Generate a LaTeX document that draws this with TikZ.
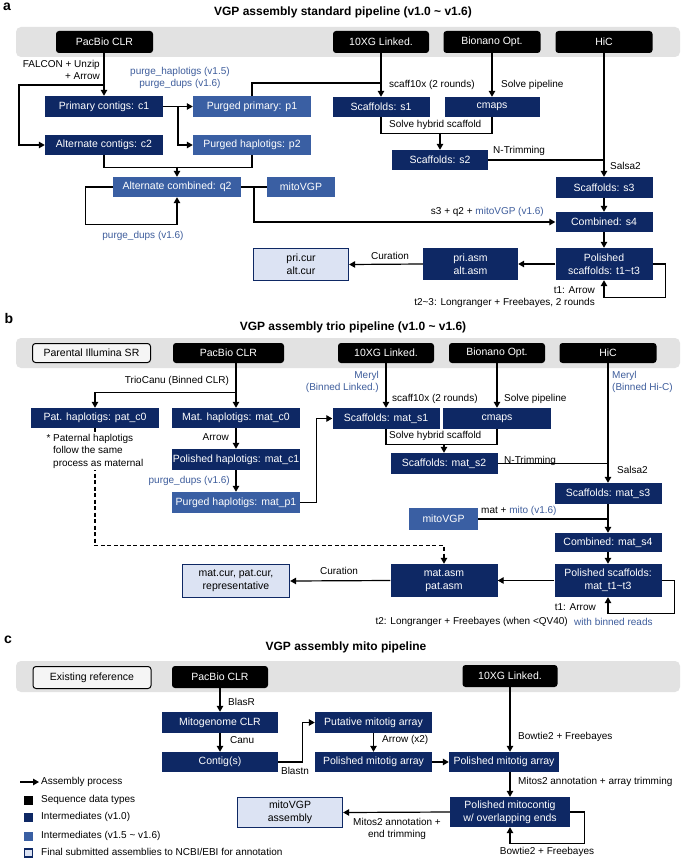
\documentclass[tikz,border=0pt]{standalone}
\usepackage{fontspec}
\setmainfont{Liberation Sans}
\usetikzlibrary{arrows.meta,calc}
\definecolor{dkblue}{RGB}{14,40,100}
\definecolor{mdblue}{RGB}{58,95,163}
\definecolor{ltblue}{RGB}{220,227,243}
\definecolor{txtblue}{RGB}{62,93,156}
\definecolor{bandgray}{RGB}{226,226,226}
\definecolor{refgray}{RGB}{245,245,245}
\newcommand{\bxf}{\fontsize{10.5}{13}\selectfont}
\newcommand{\lbf}{\fontsize{10}{12.5}\selectfont}
\newcommand{\ttlf}{\fontsize{12}{14}\selectfont\bfseries}
\newcommand{\pnlf}{\fontsize{14}{16}\selectfont\bfseries}
\begin{document}
\begin{tikzpicture}[x=1pt,y=-1pt,
 bx/.style={rectangle, inner sep=1pt, text=white, font=\bxf, align=center},
 dk/.style={bx, fill=dkblue},
 md/.style={bx, fill=mdblue},
 lt/.style={bx, fill=ltblue, draw=dkblue, line width=1.3pt, text=black},
 src/.style={bx, fill=black, rounded corners=3pt},
 refbox/.style={bx, fill=refgray, draw=black, line width=1pt, rounded corners=3pt, text=black},
 lab/.style={font=\lbf, inner sep=1pt, align=left},
 blab/.style={lab, text=txtblue},
 ln/.style={line width=1.2pt},
 arr/.style={ln, -{Triangle[length=6pt,width=6.5pt]}},
 band/.style={fill=bandgray, rounded corners=5pt},
 ttl/.style={font=\ttlf, inner sep=0pt},
 pnl/.style={font=\pnlf, inner sep=0pt},
 leg/.style={minimum size=9pt, inner sep=0pt}]
\useasboundingbox (0,0) rectangle (685,861);
\fill[white] (0,0) rectangle (685,861);

% ================= panel a =================
\node[pnl] (la) at (7,7) {a};
\node[ttl] (ta) at (343,12) {VGP assembly standard pipeline (v1.0 \textasciitilde{} v1.6)};
\fill[band] (16,27) rectangle (680,57);
\node[src, minimum width=97pt, minimum height=22pt] (pacA) at (104.5,42) {PacBio CLR};
\node[src, minimum width=96pt, minimum height=22pt] (tenA) at (381,42) {10XG Linked.};
\node[src, minimum width=97pt, minimum height=22pt] (bioA) at (492,42) {Bionano Opt.};
\node[src, minimum width=97pt, minimum height=22pt] (hicA) at (604,42) {HiC};

\node[dk, minimum width=118pt, minimum height=21pt] (c1) at (104,106.5) {Primary contigs: c1};
\node[dk, minimum width=118pt, minimum height=20pt] (c2) at (104,145) {Alternate contigs: c2};
\node[md, minimum width=118pt, minimum height=21pt] (p1) at (252,106.5) {Purged primary: p1};
\node[md, minimum width=118pt, minimum height=20pt] (p2) at (252,145) {Purged haplotigs: p2};
\node[md, minimum width=128pt, minimum height=20pt] (q2) at (177,187) {Alternate combined: q2};
\node[md, minimum width=68pt, minimum height=20pt] (mitoA) at (301,187) {mitoVGP};
\node[dk, minimum width=97pt, minimum height=20pt] (s1) at (381,107) {Scaffolds: s1};
\node[dk, minimum width=95pt, minimum height=20pt] (cmapsA) at (492,107) {cmaps};
\node[dk, minimum width=96pt, minimum height=20pt] (s2) at (440,160) {Scaffolds: s2};
\node[dk, minimum width=97pt, minimum height=21pt] (s3) at (604,187.5) {Scaffolds: s3};
\node[dk, minimum width=97pt, minimum height=20pt] (s4) at (604,222) {Combined: s4};
\node[dk, minimum width=97pt, minimum height=32pt] (tA) at (604,264) {Polished\\scaffolds: t1\textasciitilde t3};
\node[dk, minimum width=95pt, minimum height=32pt] (asmA) at (470.5,264) {pri.asm\\alt.asm};
\node[lt, minimum width=95pt, minimum height=32pt] (curA) at (301,264.5) {pri.cur\\alt.cur};

\node[lab, align=right, anchor=east] (fal) at (101,70) {FALCON + Unzip\\+ Arrow};
\node[blab, align=center] (pgh) at (180,78) {purge\_haplotigs (v1.5)\\purge\_dups (v1.6)};
\node[lab, anchor=west] (sx1) at (388,85) {scaff10x (2 rounds)};
\node[lab, anchor=west] (sp1) at (500,85) {Solve pipeline};
\node[lab, anchor=west] (sh1) at (388,125) {Solve hybrid scaffold};
\node[lab, anchor=west] (nt1) at (492,151) {N-Trimming};
\node[lab, anchor=west] (sa1) at (609,166) {Salsa2};
\node[lab, anchor=east] (cmb1) at (545,212) {s3 + q2 + \textcolor{txtblue}{mitoVGP (v1.6)}};
\node[lab] (cu1) at (390,256) {Curation};
\node[lab, anchor=east] (t1a) at (596,290) {t1: Arrow};
\node[lab, anchor=east] (t2a) at (596,303) {t2\textasciitilde 3: Longranger + Freebayes, 2 rounds};
\node[blab] (pd1) at (143,236) {purge\_dups (v1.6)};

\draw[arr] (c1.north |- pacA.south) -- (c1.north);
\coordinate (ja) at (104,85);
\draw[arr] (ja) -- ++(-85,0) |- (c2.west);
\draw[arr] (c1.east) -- (p1.west);
\coordinate (jb) at ($(c1.east)!0.5!(p1.west)$);
\draw[arr] (jb) |- (p2.west);
\draw[ln] (p1.north) |- (s1.north |- 0,83);
\draw[arr] (tenA.south) -- (s1.north);
\draw[arr] (bioA.south) -- (cmapsA.north);
\draw[ln] (s1.south) -- ++(0,16) -| (cmapsA.south);
\coordinate (jc) at (440,133);
\draw[arr] (jc) -- (s2.north);
\draw[ln] (s2.east) -- (s2.east -| hicA.south);
\draw[arr] (hicA.south) -- (s3.north);
\draw[arr] (s3.south) -- (s4.north);
\draw[arr] (s4.south) -- (tA.north);
\draw[arr] (tA.east) -- ++(13,0) |- ([yshift=-17pt]tA.south) -- (tA.south);
\draw[arr] (tA.west) -- (asmA.east);
\draw[arr] (asmA.west) -- (curA.east);
\draw[ln] (c2.south) -- ++(0,12) -| (p2.south);
\draw[arr] ([yshift=10pt]q2.north) -- (q2.north);
\draw[ln] (q2.east) -- (mitoA.west);
\coordinate (jd) at ($(q2.east)!0.5!(mitoA.west)$);
\draw[arr] (jd) |- (s4.west);
\draw[arr] (q2.west) -- ++(-27,0) |- ([yshift=-27pt]q2.south) -- (q2.south);

% ================= panel b =================
\node[pnl] (lb) at (9,318) {b};
\node[ttl] (tb) at (353,327) {VGP assembly trio pipeline (v1.0 \textasciitilde{} v1.6)};
\fill[band] (16,338) rectangle (680,368);
\node[refbox, minimum width=118pt, minimum height=19pt] (refB) at (91.5,353) {Parental Illumina SR};
\node[src, minimum width=111pt, minimum height=20pt] (pacB) at (228.5,353) {PacBio CLR};
\node[src, minimum width=96pt, minimum height=20pt] (tenB) at (386,353) {10XG Linked.};
\node[src, minimum width=96pt, minimum height=20pt] (bioB) at (497,353) {Bionano Opt.};
\node[src, minimum width=97pt, minimum height=20pt] (hicB) at (608,353) {HiC};

\node[dk, minimum width=128pt, minimum height=20pt] (patc0) at (95,418) {Pat. haplotigs: pat\_c0};
\node[dk, minimum width=128pt, minimum height=20pt] (matc0) at (236,418) {Mat. haplotigs: mat\_c0};
\node[dk, minimum width=128pt, minimum height=21pt] (matc1) at (236,459.5) {Polished haplotigs: mat\_c1};
\node[md, minimum width=128pt, minimum height=21pt] (matp1) at (236,502.5) {Purged haplotigs: mat\_p1};
\node[dk, minimum width=107pt, minimum height=21pt] (ms1) at (386,418.5) {Scaffolds: mat\_s1};
\node[dk, minimum width=108pt, minimum height=21pt] (cmapsB) at (497,418.5) {cmaps};
\node[dk, minimum width=107pt, minimum height=21pt] (ms2) at (444,463.5) {Scaffolds: mat\_s2};
\node[dk, minimum width=107pt, minimum height=21pt] (ms3) at (608,493.5) {Scaffolds: mat\_s3};
\node[md, minimum width=69pt, minimum height=22pt] (mitoB) at (443.5,519) {mitoVGP};
\node[dk, minimum width=107pt, minimum height=19pt] (ms4) at (608,542.5) {Combined: mat\_s4};
\node[dk, minimum width=107pt, minimum height=33pt] (mt) at (608,580.5) {Polished scaffolds:\\mat\_t1\textasciitilde t3};
\node[dk, minimum width=107pt, minimum height=33pt] (asmB) at (444,580.5) {mat.asm\\pat.asm};
\node[lt, minimum width=107pt, minimum height=33pt] (curB) at (236,581) {mat.cur, pat.cur,\\representative};

\node[lab] (trio) at (177,381) {TrioCanu (Binned CLR)};
\node[lab, anchor=east] (arb) at (230,437) {Arrow};
\node[blab, anchor=east] (pdb) at (231,481) {purge\_dups (v1.6)};
\node[blab, align=right, anchor=east] (mer1) at (380,382) {Meryl\\(Binned Linked.)};
\node[lab, anchor=west] (sx2) at (391,399) {scaff10x (2 rounds)};
\node[lab, anchor=west] (sp2) at (503,399) {Solve pipeline};
\node[lab, anchor=west] (sh2) at (388,436) {Solve hybrid scaffold};
\node[blab, align=left, anchor=west] (mer2) at (611,382) {Meryl\\(Binned Hi-C)};
\node[lab, anchor=west] (nt2) at (503,461) {N-Trimming};
\node[lab, anchor=west] (sa2) at (616,470) {Salsa2};
\node[lab, anchor=west] (mm) at (480,511) {mat + \textcolor{txtblue}{mito (v1.6)}};
\node[lab] (cu2) at (339,571) {Curation};
\node[lab, anchor=east] (t1b) at (597,607) {t1: Arrow};
\node[lab, anchor=east] (t2b) at (569,622) {t2: Longranger + Freebayes (when <QV40)};
\node[blab, anchor=west] (wbr) at (573,622) {with binned reads};

\draw[arr] (matc0.north |- pacB.south) -- (matc0.north);
\draw[arr] ([yshift=15pt]matc0.north) -| (patc0.north);
\draw[arr] (matc0.south) -- (matc1.north);
\draw[arr] (matc1.south) -- (matp1.north);
\draw[arr] (matp1.east) -- ++(16,0) |- (ms1.west);
\draw[arr] (tenB.south) -- (ms1.north);
\draw[arr] (bioB.south) -- (cmapsB.north);
\draw[ln] (ms1.south) -- ++(0,15) -| (cmapsB.south);
\coordinate (jf) at (444,444);
\draw[arr] (jf) -- (ms2.north);
\draw[ln] (ms2.east) -- (ms2.east -| hicB.south);
\draw[arr] (hicB.south) -- (ms3.north);
\draw[arr] (ms3.south) -- (ms4.north);
\draw[ln] (mitoB.east) -- (mitoB.east -| ms3.south);
\draw[arr] (ms4.south) -- (mt.north);
\draw[arr] (mt.east) -- ++(13,0) |- ([yshift=-16pt]mt.south) -- (mt.south);
\draw[arr] (mt.west) -- (asmB.east);
\draw[arr] (asmB.west) -- (curB.east);
\draw[arr, dash pattern=on 4pt off 2.5pt] (patc0.south) |- ([yshift=18pt]asmB.north) -- (asmB.north);
\node[lab, fill=white, anchor=north west, inner sep=1pt] (note) at (52,433) {\llap{* }Paternal haplotigs\\follow the same\\process as maternal};

% ================= panel c =================
\node[pnl] (lc) at (8,640) {c};
\node[ttl] (tc) at (346,647) {VGP assembly mito pipeline};
\fill[band] (16,661) rectangle (680,692);
\node[refbox, minimum width=118pt, minimum height=22pt] (refC) at (92,677.5) {Existing reference};
\node[src, minimum width=96pt, minimum height=22pt] (pacC) at (220,677) {PacBio CLR};
\node[src, minimum width=95pt, minimum height=22pt] (tenC) at (510,676) {10XG Linked.};

\node[dk, minimum width=116pt, minimum height=21pt] (mitoclr) at (220,722.5) {Mitogenome CLR};
\node[dk, minimum width=116pt, minimum height=20pt] (contig) at (220,762) {Contig(s)};
\node[dk, minimum width=117pt, minimum height=21pt] (putative) at (373.5,722.5) {Putative mitotig array};
\node[dk, minimum width=117pt, minimum height=20pt] (pol1) at (373.5,762) {Polished mitotig array};
\node[dk, minimum width=110pt, minimum height=20pt] (pol2) at (504,762) {Polished mitotig array};
\node[dk, minimum width=120pt, minimum height=30pt] (mitocontig) at (510,812) {Polished mitocontig\\w/ overlapping ends};
\node[lt, minimum width=105pt, minimum height=30pt] (mitofinal) at (290,812.5) {mitoVGP\\assembly};

\node[lab, anchor=west] (bla) at (227,702) {BlasR};
\node[lab, anchor=west] (canu) at (229,740) {Canu};
\node[lab] (blastn) at (295,771) {Blastn};
\node[lab, anchor=west] (ax2) at (381,740) {Arrow (x2)};
\node[lab, anchor=west] (bf1) at (517,737) {Bowtie2 + Freebayes};
\node[lab, anchor=west] (mit1) at (517,782) {Mitos2 annotation + array trimming};
\node[lab, align=center] (mit2) at (397,829) {Mitos2 annotation +\\end trimming};
\node[lab] (bf2) at (547,852) {Bowtie2 + Freebayes};

\draw[arr] (pacC.south) -- (mitoclr.north);
\draw[arr] (mitoclr.south) -- (contig.north);
\draw[arr] (contig.east) -- ++(24,0) |- (putative.west);
\draw[arr] (putative.south) -- (pol1.north);
\draw[arr] (pol1.east) -- (pol2.west);
\draw[arr] (tenC.south) -- (tenC.south |- pol2.north);
\draw[arr] (tenC.south |- pol2.south) -- (mitocontig.north);
\draw[arr] (mitocontig.east) -- ++(14,0) |- ([yshift=-16pt]mitocontig.south) -- (mitocontig.south);
\draw[arr] (mitocontig.west) -- (mitofinal.east);

% legend
\coordinate (lg0) at (20,782);
\coordinate (lg1) at (39,782);
\draw[arr] (lg0) -- (lg1);
\node[lab, anchor=west] (lgt1) at (40,782) {Assembly process};
\node[leg, fill=black] (lq1) at (28.5,800) {};
\node[lab, anchor=west] (lgt2) at (40,800) {Sequence data types};
\node[leg, fill=dkblue] (lq2) at (28.5,817.5) {};
\node[lab, anchor=west] (lgt3) at (40,817) {Intermediates (v1.0)};
\node[leg, fill=mdblue] (lq3) at (28.5,836) {};
\node[lab, anchor=west] (lgt4) at (40,836) {Intermediates (v1.5 \textasciitilde{} v1.6)};
\node[leg, fill=ltblue, draw=dkblue, line width=1.2pt, minimum size=8pt] (lq4) at (28.5,853) {};
\node[lab, anchor=west] (lgt5) at (40,852) {Final submitted assemblies to NCBI/EBI for annotation};
\end{tikzpicture}
\end{document}
